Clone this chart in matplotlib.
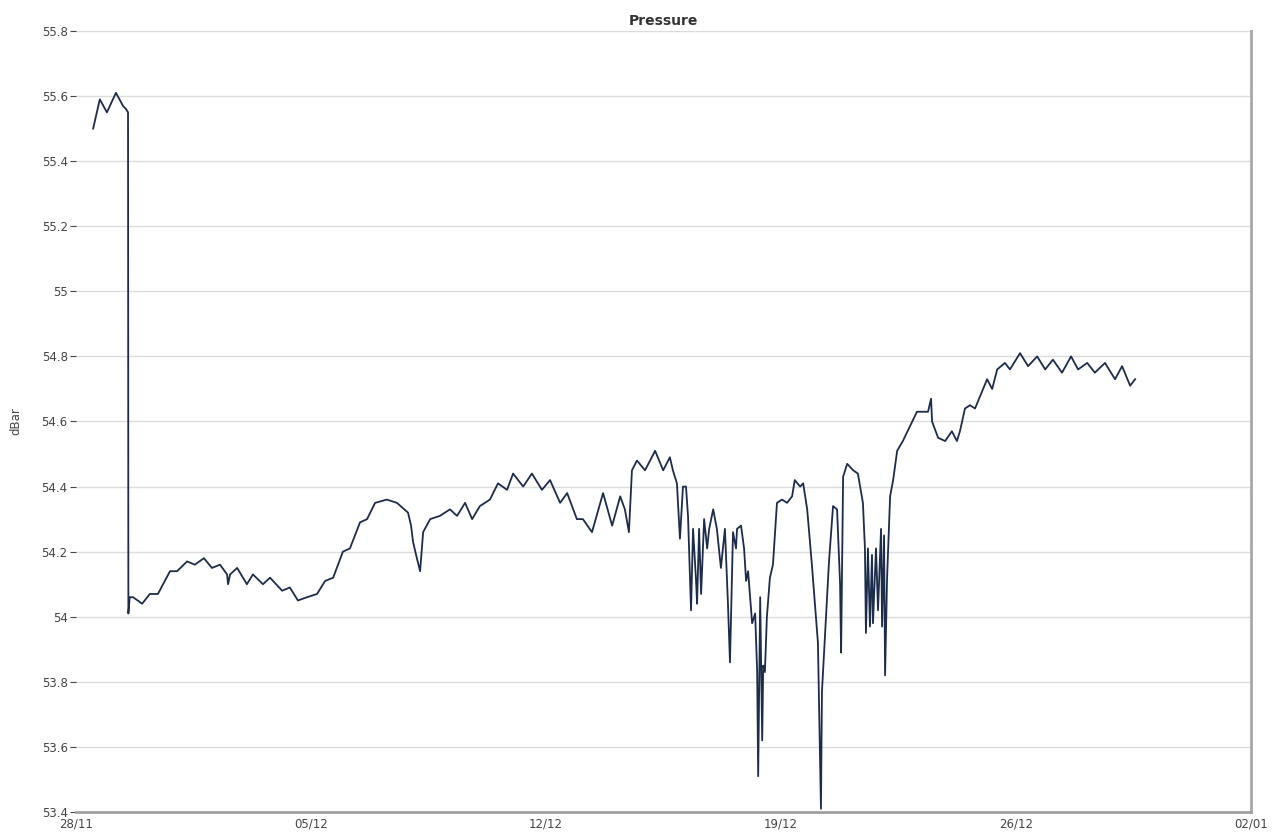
import matplotlib
matplotlib.use("Agg")
import matplotlib.pyplot as plt

# Days since 28/11 00:00 and pressure readings (dBar)
days = [0.51, 0.71, 0.92, 1.19, 1.40, 1.49, 1.55, 1.56, 1.60, 1.70, 1.97, 2.20, 2.44,
        2.80, 3.01, 3.31, 3.54, 3.81, 4.05, 4.29, 4.50, 4.53, 4.59, 4.80, 5.09, 5.27,
        5.57, 5.78, 6.14, 6.37, 6.61, 6.88, 7.18, 7.42, 7.66, 7.95, 8.16, 8.46, 8.67,
        8.91, 9.26, 9.56, 9.89, 9.98, 10.04, 10.13, 10.25, 10.34, 10.55, 10.84, 11.14,
        11.35, 11.59, 11.80, 12.03, 12.33, 12.57, 12.84, 13.02, 13.32, 13.58, 13.88,
        14.12, 14.42, 14.63, 14.92, 15.10, 15.37, 15.70, 15.97, 16.21, 16.35, 16.47,
        16.56, 16.71, 16.95, 17.25, 17.49, 17.69, 17.78, 17.90, 17.99, 18.08, 18.17,
        18.23, 18.32, 18.38, 18.47, 18.50, 18.56, 18.62, 18.71, 18.80, 18.86, 18.98,
        19.09, 19.21, 19.33, 19.42, 19.48, 19.57, 19.66, 19.69, 19.81, 19.90, 19.96,
        20.02, 20.14, 20.23, 20.29, 20.32, 20.38, 20.44, 20.47, 20.52, 20.58, 20.67,
        20.76, 20.88, 21.03, 21.18, 21.33, 21.41, 21.57, 21.66, 21.78, 21.92, 22.10,
        22.19, 22.22, 22.31, 22.37, 22.43, 22.55, 22.67, 22.76, 22.79, 22.85, 22.97,
        23.15, 23.29, 23.44, 23.50, 23.53, 23.59, 23.65, 23.71, 23.74, 23.83, 23.89,
        23.98, 24.01, 24.07, 24.10, 24.16, 24.25, 24.34, 24.46, 24.63, 25.05, 25.38,
        25.47, 25.50, 25.68, 25.89, 26.09, 26.24, 26.33, 26.48, 26.63, 26.78, 27.14,
        27.29, 27.44, 27.67, 27.82, 28.12, 28.36, 28.63, 28.87, 29.10, 29.37, 29.64,
        29.85, 30.12, 30.35, 30.65, 30.95, 31.16, 31.40, 31.55]

pressure = [55.50, 55.59, 55.55, 55.61, 55.57, 55.56, 55.55, 54.01, 54.06, 54.06, 54.04,
            54.07, 54.07, 54.14, 54.14, 54.17, 54.16, 54.18, 54.15, 54.16, 54.13, 54.10,
            54.13, 54.15, 54.10, 54.13, 54.10, 54.12, 54.08, 54.09, 54.05, 54.06, 54.07,
            54.11, 54.12, 54.20, 54.21, 54.29, 54.30, 54.35, 54.36, 54.35, 54.32, 54.28,
            54.23, 54.19, 54.14, 54.26, 54.30, 54.31, 54.33, 54.31, 54.35, 54.30, 54.34,
            54.36, 54.41, 54.39, 54.44, 54.40, 54.44, 54.39, 54.42, 54.35, 54.38, 54.30,
            54.30, 54.26, 54.38, 54.28, 54.37, 54.33, 54.26, 54.45, 54.48, 54.45, 54.51,
            54.45, 54.49, 54.45, 54.41, 54.24, 54.40, 54.40, 54.31, 54.02, 54.27, 54.11,
            54.04, 54.27, 54.07, 54.30, 54.21, 54.27, 54.33, 54.27, 54.15, 54.27, 54.04,
            53.86, 54.26, 54.21, 54.27, 54.28, 54.21, 54.11, 54.14, 53.98, 54.01, 53.83,
            53.51, 54.06, 53.62, 53.85, 53.83, 54.00, 54.12, 54.16, 54.35, 54.36, 54.35,
            54.37, 54.42, 54.40, 54.41, 54.33, 54.16, 53.92, 53.41, 53.77, 53.94, 54.05,
            54.17, 54.34, 54.33, 54.10, 53.89, 54.43, 54.47, 54.45, 54.44, 54.35, 54.21,
            53.95, 54.21, 53.97, 54.19, 53.98, 54.21, 54.02, 54.27, 53.97, 54.25, 53.82,
            54.12, 54.37, 54.42, 54.51, 54.54, 54.63, 54.63, 54.67, 54.60, 54.55, 54.54,
            54.57, 54.54, 54.57, 54.64, 54.65, 54.64, 54.73, 54.70, 54.76, 54.78, 54.76,
            54.81, 54.77, 54.80, 54.76, 54.79, 54.75, 54.80, 54.76, 54.78, 54.75, 54.78,
            54.73, 54.77, 54.71, 54.73]

x_ticks = [0, 7, 14, 21, 28, 35]
x_labels = ["28/11", "05/12", "12/12", "19/12", "26/12", "02/01"]
y_ticks = [53.4, 53.6, 53.8, 54.0, 54.2, 54.4, 54.6, 54.8, 55.0, 55.2, 55.4, 55.6, 55.8]
y_labels = ["53.4", "53.6", "53.8", "54", "54.2", "54.4", "54.6", "54.8", "55",
            "55.2", "55.4", "55.6", "55.8"]

plt.rcParams['font.family'] = ['DejaVu Sans']
fig = plt.figure(figsize=(12.79, 8.40), dpi=100)
ax = fig.add_axes([76 / 1279, 1 - 812 / 840, (1251 - 76) / 1279, (812 - 31) / 840])

ax.plot(days, pressure, color="#1c2c4a", linewidth=1.3, solid_joinstyle="round")

ax.set_xlim(0, 35)
ax.set_ylim(53.4, 55.8)
ax.set_xticks(x_ticks)
ax.set_xticklabels(x_labels)
ax.set_yticks(y_ticks)
ax.set_yticklabels(y_labels)
ax.tick_params(axis="both", labelsize=8.5, colors="#444444", length=4, width=0.8, pad=2)
ax.tick_params(axis="x", length=0, pad=4)

ax.yaxis.grid(True, color="#dcdcdc", linewidth=1.0)
ax.xaxis.grid(False)
ax.set_axisbelow(True)

for side in ["top", "left"]:
    ax.spines[side].set_visible(False)
ax.spines["right"].set_color("#a8a8a8")
ax.spines["right"].set_linewidth(2.0)
ax.spines["bottom"].set_color("#a0a0a0")
ax.spines["bottom"].set_linewidth(2.0)

ax.set_ylabel("dBar", fontsize=8.5, color="#444444", labelpad=14)
ax.set_title("Pressure", fontsize=10, fontweight="bold", color="#333333", pad=4)

fig.savefig("out.png", dpi=100, facecolor="white")
